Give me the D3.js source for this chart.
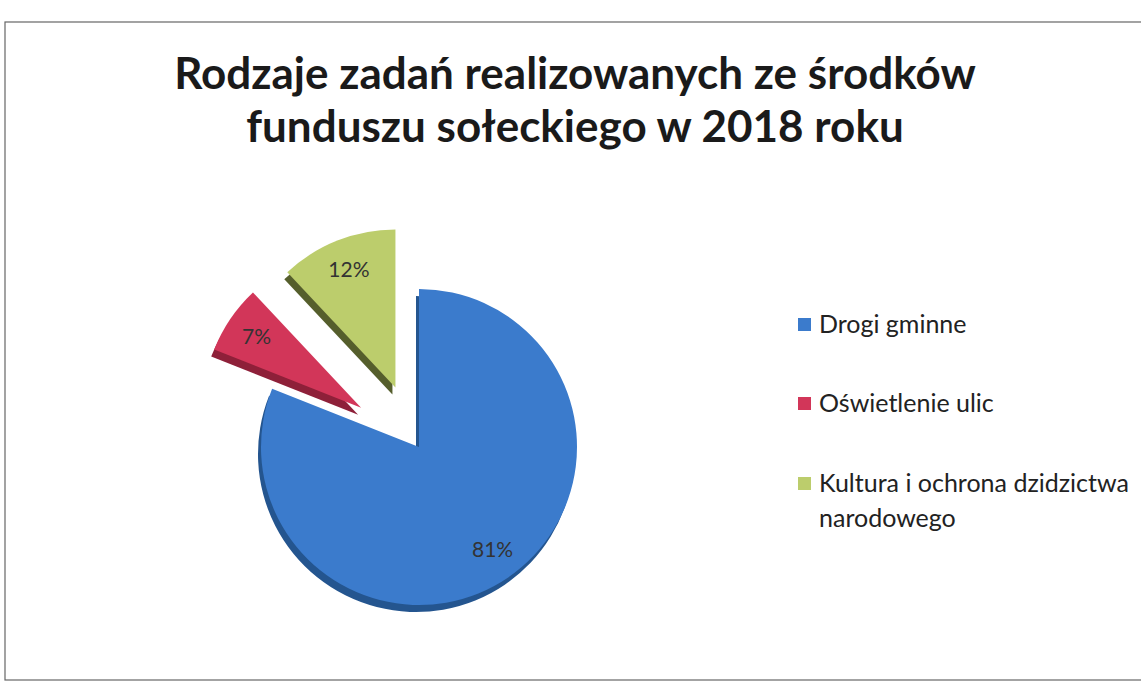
<!DOCTYPE html>
<head>
  <meta charset="utf-8">
  <script src="https://d3js.org/d3.v7.min.js"></script>
  <style>
    body { margin:0; background:#fff; }
    text { font-family: Lato, "Open Sans", sans-serif; }
  </style>
</head>
<body>
  <svg id="svgelem" width="1141" height="688"></svg>
  <script>
    // data
    var categories = ["Drogi gminne", "Oświetlenie ulic", "Kultura i ochrona dziedzictwa narodowego"];
    var values = [81, 7, 12];
    var labels = ["81%", "7%", "12%"];
    var legendLines = [["Drogi gminne"], ["Oświetlenie ulic"], ["Kultura i ochrona dzidzictwa", "narodowego"]];
    var titleLines = ["Rodzaje zadań realizowanych ze środków", "funduszu sołeckiego w 2018 roku"];

    var colors = ["#3b7bcc", "#d23659", "#bccd6c"];
    var sideColors = ["#24558f", "#8e2039", "#555e2c"];
    var explode = [0, 70, 64];

    var svg = d3.select("#svgelem");

    // chart frame
    svg.append("rect")
      .attr("x", 5).attr("y", 22)
      .attr("width", 1160).attr("height", 658)
      .attr("fill", "none")
      .attr("stroke", "#666")
      .attr("stroke-width", 1.2);

    svg.selectAll(".title").data(titleLines).enter()
      .append("text")
      .attr("class", "title")
      .attr("x", 575)
      .attr("y", function(d, i) { return 89 + i * 53; })
      .attr("text-anchor", "middle")
      .style("font-size", "44px")
      .style("font-weight", "bold")
      .attr("fill", "#1a1a1a")
      .text(function(d) { return d; });

    var cx = 419, cy = 447, r = 158;
    var pie = d3.pie().sort(null).value(function(d) { return d; });
    var arcs = pie(values);
    var arc = d3.arc().innerRadius(0).outerRadius(r);

    function offset(d, i) {
      var a = (d.startAngle + d.endAngle) / 2;
      return [Math.sin(a) * explode[i], -Math.cos(a) * explode[i]];
    }

    var g = svg.append("g").attr("transform", "translate(" + cx + "," + cy + ")");

    // side (depth) of each slice
    g.selectAll(".side").data(arcs).enter()
      .append("path")
      .attr("class", "side")
      .attr("d", arc)
      .attr("fill", function(d, i) { return sideColors[i]; })
      .attr("transform", function(d, i) {
        var o = offset(d, i);
        return "translate(" + (o[0] - 3) + "," + (o[1] + 7) + ")";
      });

    g.selectAll(".slice").data(arcs).enter()
      .append("path")
      .attr("class", "slice")
      .attr("d", arc)
      .attr("fill", function(d, i) { return colors[i]; })
      .attr("transform", function(d, i) {
        var o = offset(d, i);
        return "translate(" + o[0] + "," + o[1] + ")";
      });

    var labelArc = d3.arc().innerRadius(r * 0.8).outerRadius(r * 0.8);
    g.selectAll(".lbl").data(arcs).enter()
      .append("text")
      .attr("class", "lbl")
      .attr("transform", function(d, i) {
        var o = offset(d, i);
        var c = labelArc.centroid(i === 0 ? {startAngle: 2.52, endAngle: 2.52} : d);
        return "translate(" + (c[0] + o[0]) + "," + (c[1] + o[1]) + ")";
      })
      .attr("text-anchor", "middle")
      .attr("dy", "0.35em")
      .style("font-size", "21px")
      .attr("fill", "#333")
      .text(function(d, i) { return labels[i]; });

    // legend
    var legY = [324, 403, 483];
    var leg = svg.selectAll(".leg").data(categories).enter()
      .append("g")
      .attr("class", "leg")
      .attr("transform", function(d, i) { return "translate(798," + legY[i] + ")"; });

    leg.append("rect")
      .attr("x", 0).attr("y", -6)
      .attr("width", 13).attr("height", 13)
      .attr("fill", function(d, i) { return colors[i]; });

    leg.append("text")
      .attr("x", 21)
      .attr("y", 0)
      .style("font-size", "25px")
      .attr("fill", "#222")
      .each(function(d, i) {
        var t = d3.select(this);
        legendLines[i].forEach(function(line, j) {
          t.append("tspan").attr("x", 21).attr("dy", j === 0 ? "0.35em" : "1.4em").text(line);
        });
      });
  </script>
</body>
